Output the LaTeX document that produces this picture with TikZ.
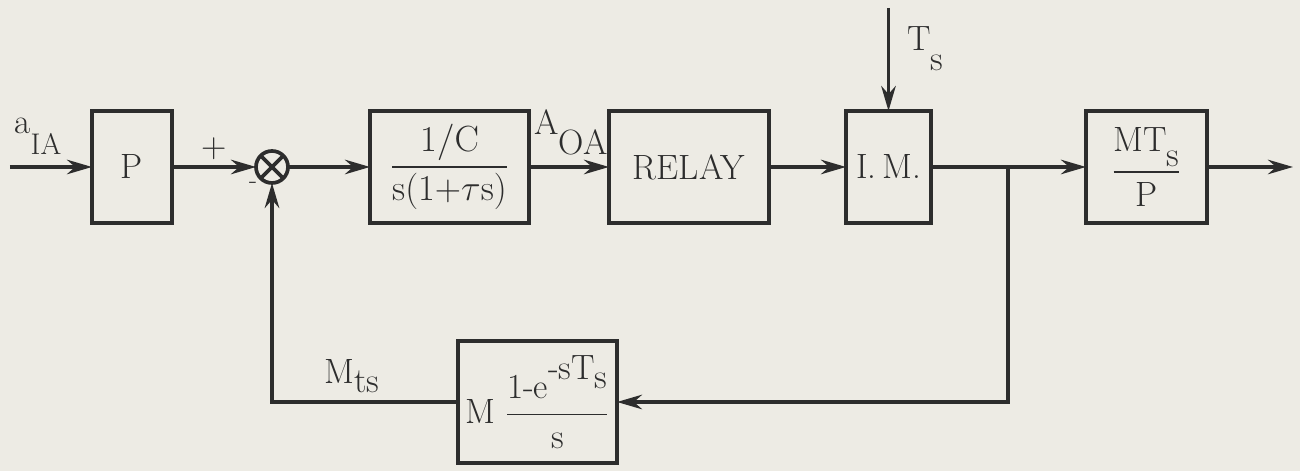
\documentclass[tikz,border=0pt]{standalone}
\usepackage{amsmath}
\usetikzlibrary{positioning,arrows.meta}
\definecolor{ink}{RGB}{45,45,45}
\definecolor{paper}{RGB}{237,235,228}
\newcommand{\subdn}[2][1.1ex]{\raisebox{-#1}{#2}}

\begin{document}
\begin{tikzpicture}[
  >={Stealth[length=5mm,width=2.9mm]}, node distance=1.6cm, color=ink, line width=2.1pt,
  block/.style={draw, line width=2.1pt, minimum height=2.24cm, inner sep=1pt, outer sep=0pt, font=\fontsize{20}{24}\selectfont},
  sumnode/.style={circle, draw, line width=2.1pt, minimum size=0.64cm, inner sep=0pt, outer sep=0pt},
  lbl/.style={inner sep=1pt, font=\fontsize{20}{24}\selectfont}
]
  \useasboundingbox (0,0) rectangle (26,9.42);
  \fill[paper] (0,0) rectangle (26,9.42);
  % forward path
  \node[block, minimum width=1.6cm] (P) at (2.64,6.08) {P};
  \node[sumnode, right=1.68cm of P] (sum) {};
  \node[block, minimum width=3.18cm, right=1.64cm of sum] (plant) {$\dfrac{1/\mathrm{C}}{\mathrm{s}(1{+}\tau\mathrm{s})}$};
  \node[block, minimum width=3.2cm, right=of plant] (relay) {RELAY};
  \node[block, minimum width=1.7cm, right=1.54cm of relay] (im) {I.\,M.};
  \node[block, minimum width=2.42cm, right=3.1cm of im] (gain) {$\dfrac{\text{MT\subdn[1ex]{s}}}{\text{P}}$};
  % feedback
  \node[block, minimum width=3.18cm, minimum height=2.44cm] (hold) at (10.75,1.38) {M\;$\dfrac{\text{1-e\raisebox{1.3ex}{-sT\subdn[0.6ex]{s}}}}{\text{s}}$};
  \coordinate[left=1.64cm of P] (in);
  \coordinate[right=1.72cm of gain] (out);
  \coordinate[right=1.54cm of im] (br);
  \coordinate[above=2.06cm of im] (tsin);
  \draw (sum.north west) -- (sum.south east) (sum.north east) -- (sum.south west);
  \draw[->] (in) -- (P);
  \draw[->] (P) -- node[lbl, above=2pt] {+} (sum);
  \draw[->] (sum) -- (plant);
  \draw[->] (plant) -- (relay);
  \draw[->] (relay) -- (im);
  \draw[->] (im) -- (gain);
  \draw[->] (gain) -- (out);
  \draw[->] (tsin) -- (im);
  \draw[->] (br) |- (hold);
  \draw[->] (hold) -| (sum);
  % labels
  \node[lbl, above right=0.18cm and 0.02cm of in] (aIA) {a\subdn[1.4ex]{\fontsize{17}{20}\selectfont IA}};
  \node[lbl, font=\fontsize{15}{17}\selectfont, anchor=north east] (minus) at (sum.south west) {-};
  \node[lbl, above right=0.16cm and 0.04cm of plant.east] (AOA) {A\subdn[1.35ex]{OA}};
  \node[lbl, below right=0.3cm and 0.3cm of tsin] (Ts) {T\subdn[1.3ex]{s}};
  \node[lbl, above left=0.12cm and 1.5cm of hold.west] (Mts) {M\subdn[0.55ex]{ts}};
\end{tikzpicture}
\end{document}
